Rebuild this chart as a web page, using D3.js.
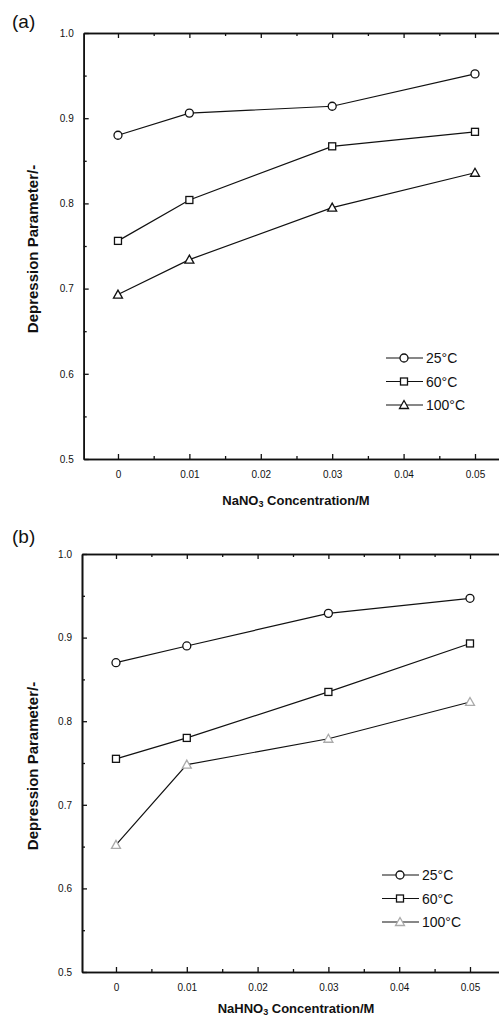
<!DOCTYPE html>
<html>
<head>
<meta charset="utf-8">
<script src="https://cdn.jsdelivr.net/npm/d3@7"></script>
<style>
  body { margin: 0; background: #fff; }
  text { font-family: "Liberation Sans", Arial, sans-serif; fill: #111; }
</style>
</head>
<body>
<div id="container"></div>
<script>
// concentrations (M) on the x axis
const conc = [0, 0.01, 0.03, 0.05];
const temps = ["25°C", "60°C", "100°C"];

// panel (a): NaNO3
const nano3_25 = [0.880, 0.906, 0.914, 0.952];
const nano3_60 = [0.756, 0.804, 0.867, 0.884];
const nano3_100 = [0.693, 0.734, 0.795, 0.836];

// panel (b): NaHNO3
const nahno3_25 = [0.870, 0.890, 0.929, 0.947];
const nahno3_60 = [0.755, 0.780, 0.835, 0.893];
const nahno3_100 = [0.652, 0.748, 0.779, 0.823];

const xTicks = [0, 0.01, 0.02, 0.03, 0.04, 0.05];
const xMinor = [0.005, 0.015, 0.025, 0.035, 0.045];
const yTicks = [0.5, 0.6, 0.7, 0.8, 0.9, 1.0];
const yMinor = [0.55, 0.65, 0.75, 0.85, 0.95];

const W = 499, H = 1020;
const svg = d3.select("#container").append("svg")
  .attr("width", W).attr("height", H)
  .style("background", "#fff");

const shapes = ["circle", "square", "triangle"];

function marker(g, shape, x, y, col) {
  if (shape == "circle") {
    g.append("circle").attr("cx", x).attr("cy", y).attr("r", 4)
      .attr("fill", "#fff").attr("stroke", col).attr("stroke-width", 1.3);
  } else if (shape == "square") {
    g.append("rect").attr("x", x - 3.5).attr("y", y - 3.5).attr("width", 7).attr("height", 7)
      .attr("fill", "#fff").attr("stroke", col).attr("stroke-width", 1.3);
  } else {
    g.append("path").attr("d", `M${x},${y - 4.5}L${x + 4.5},${y + 3.5}L${x - 4.5},${y + 3.5}Z`)
      .attr("fill", "#fff").attr("stroke", col).attr("stroke-width", 1.3);
  }
}

function panel(opt) {
  const g = svg.append("g");
  const x = d3.scaleLinear().domain([-0.0048, 0.055]).range(opt.xr);
  const y = d3.scaleLinear().domain([0.5, 1.0]).range(opt.yr);

  // frame axes with inward ticks
  const bottom = g.append("g").attr("transform", `translate(0,${opt.yr[0]})`)
    .call(d3.axisBottom(x).tickValues(xTicks).tickSizeInner(-5).tickSizeOuter(0).tickPadding(12)
      .tickFormat(d => d == 0 ? "0" : d3.format(".2f")(d)));
  bottom.append("g").call(d3.axisBottom(x).tickValues(xMinor).tickSizeInner(-3).tickSizeOuter(0).tickFormat(""));

  const top = g.append("g").attr("transform", `translate(0,${opt.yr[1]})`)
    .call(d3.axisTop(x).tickValues(xTicks).tickSizeInner(-5).tickSizeOuter(0).tickFormat(""));
  top.append("g").call(d3.axisTop(x).tickValues(xMinor).tickSizeInner(-3).tickSizeOuter(0).tickFormat(""));

  const left = g.append("g").attr("transform", `translate(${opt.xr[0]},0)`)
    .call(d3.axisLeft(y).tickValues(yTicks).tickSizeInner(-5).tickSizeOuter(0).tickPadding(10)
      .tickFormat(d3.format(".1f")));
  left.append("g").call(d3.axisLeft(y).tickValues(yMinor).tickSizeInner(-3).tickSizeOuter(0).tickFormat(""));

  g.selectAll(".domain").attr("stroke", "#111").attr("stroke-width", 1.6);
  g.selectAll(".tick line").attr("stroke", "#111").attr("stroke-width", 1.3);
  g.selectAll(".tick text").style("font-size", "10px").attr("fill", "#111")
    .style("font-family", "'Liberation Sans', Arial, sans-serif");

  // series
  const line = d3.line().x((d, i) => x(conc[i])).y(d => y(d));
  opt.series.forEach((s, k) => {
    g.append("path").datum(s).attr("d", line)
      .attr("fill", "none").attr("stroke", "#111").attr("stroke-width", 1.2);
    s.forEach((v, i) => marker(g, shapes[k], x(conc[i]), y(v), opt.markCol[k]));
  });

  // legend
  temps.forEach((t, k) => {
    const ly = opt.legY + k * 23.5;
    g.append("line").attr("x1", opt.legX).attr("x2", opt.legX + 37)
      .attr("y1", ly).attr("y2", ly).attr("stroke", "#111").attr("stroke-width", 1.2);
    marker(g, shapes[k], opt.legX + 18, ly, opt.markCol[k]);
    g.append("text").attr("x", opt.legX + 40).attr("y", ly + 5)
      .style("font-size", "14px").text(t);
  });

  // axis titles
  const yMid = (opt.yr[0] + opt.yr[1]) / 2 + 3;
  g.append("text").attr("transform", `translate(38,${yMid}) rotate(-90)`)
    .attr("text-anchor", "middle").style("font-size", "15px").style("font-weight", "bold")
    .text("Depression Parameter/-");

  const xt = g.append("text").attr("x", 296).attr("y", opt.titleY)
    .attr("text-anchor", "middle").style("font-size", "13px").style("font-weight", "bold");
  xt.append("tspan").text(opt.chem);
  xt.append("tspan").attr("baseline-shift", "-20%").style("font-size", "9px").text("3");
  xt.append("tspan").text(" Concentration/M");

  g.append("text").attr("x", 12).attr("y", opt.labY)
    .style("font-size", "19px").text(opt.label);
}

panel({
  xr: [83.7, 510.7], yr: [459, 33],
  series: [nano3_25, nano3_60, nano3_100],
  markCol: ["#111", "#111", "#111"],
  legX: 386, legY: 358,
  chem: "NaNO", label: "(a)", labY: 28, titleY: 505
});

panel({
  xr: [82, 505.4], yr: [972, 554],
  series: [nahno3_25, nahno3_60, nahno3_100],
  markCol: ["#111", "#111", "#aaa"],
  legX: 382, legY: 875,
  chem: "NaHNO", label: "(b)", labY: 543, titleY: 1013
});
</script>
</body>
</html>
